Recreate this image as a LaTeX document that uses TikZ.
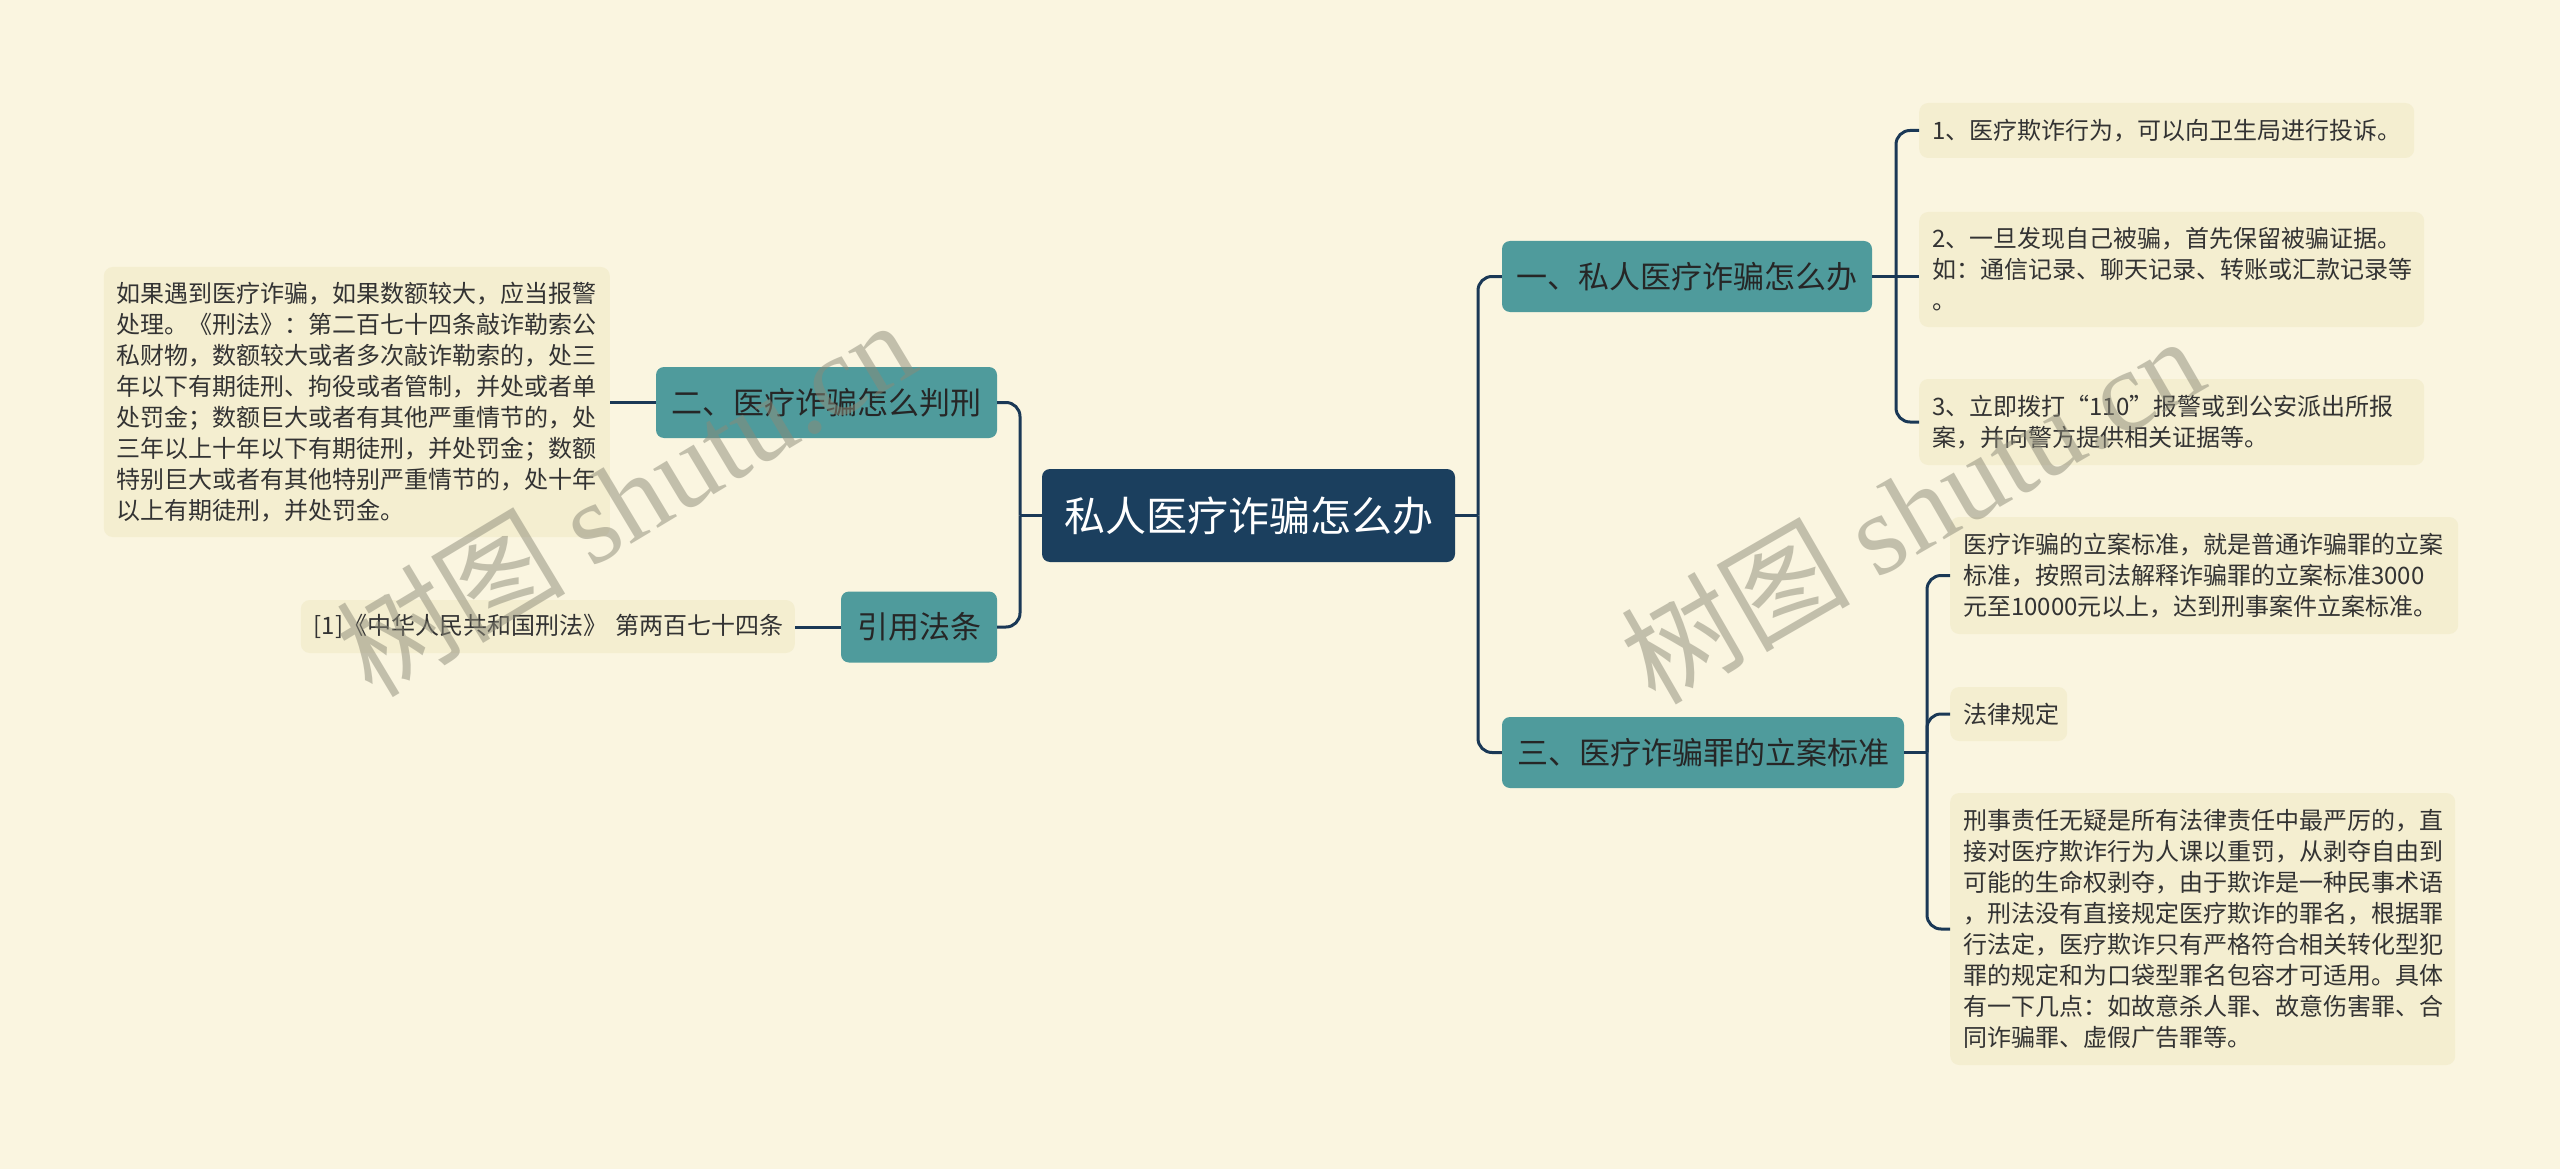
\documentclass[tikz,border=0pt]{standalone}
\usepackage{fontspec}
\setmainfont{Noto Sans CJK SC}
\newfontfamily\wmserif{Liberation Serif}
\definecolor{bgc}{HTML}{FAF5E0}
\definecolor{leafc}{HTML}{F4EED0}
\definecolor{tealc}{HTML}{4F9B9C}
\definecolor{navyc}{HTML}{1B3F5E}
\definecolor{linkc}{HTML}{1A3856}
\definecolor{wmc}{RGB}{140,138,120}
\begin{document}
\begin{tikzpicture}[x=1pt,y=-1pt,
  rootbox/.style={fill=navyc, rounded corners=8pt, text=white, font=\fontsize{41}{46}\selectfont, minimum width=413pt, minimum height=93pt, inner sep=0pt},
  topicbox/.style={fill=tealc, rounded corners=8pt, text=black!85, font=\fontsize{31}{36}\selectfont, minimum height=71pt, inner sep=0pt},
  leafbox/.style={fill=leafc, rounded corners=9pt, text=black!80, font=\fontsize{24}{31}\selectfont, align=left, inner xsep=13pt, inner ysep=0pt},
  conn/.style={draw=linkc, line width=3pt, rounded corners=14pt},
  wmark/.style={text=wmc, text opacity=0.5, inner sep=0pt, font=\fontsize{115}{120}\selectfont}]
\fill[bgc] (0,0) rectangle (2560,1169);
\useasboundingbox (0,0) rectangle (2560,1169);

% root and topics
\node[rootbox] (root) at (1248.5,515.5) {私人医疗诈骗怎么办};
\node[topicbox, minimum width=370pt] (t1) at (1687,276.5) {一、私人医疗诈骗怎么办};
\node[topicbox, minimum width=341pt] (t2) at (826.5,402.5) {二、医疗诈骗怎么判刑};
\node[topicbox, minimum width=156pt] (t4) at (919,627) {引用法条};
\node[topicbox, minimum width=402pt] (t3) at (1703,752.5) {三、医疗诈骗罪的立案标准};

% right leaves
\node[leafbox, anchor=west, text width=469pt, minimum height=55pt] (r1) at (1919,130.5) {1、医疗欺诈行为，可以向卫生局进行投诉。};
\node[leafbox, anchor=west, text width=479pt, minimum height=115pt] (r2) at (1919,269.5) {2、一旦发现自己被骗，首先保留被骗证据。\\如：通信记录、聊天记录、转账或汇款记录等\\。};
\node[leafbox, anchor=west, text width=479pt, minimum height=86pt] (r3) at (1919,422) {3、立即拨打“110”报警或到公安派出所报\\案，并向警方提供相关证据等。};
\node[leafbox, anchor=west, text width=482pt, minimum height=117pt] (r4) at (1950,575.5) {医疗诈骗的立案标准，就是普通诈骗罪的立案\\标准，按照司法解释诈骗罪的立案标准3000\\元至10000元以上，达到刑事案件立案标准。};
\node[leafbox, anchor=west, text width=91pt, minimum height=54pt] (r5) at (1950,714) {法律规定};
\node[leafbox, anchor=west, text width=479pt, minimum height=272pt] (r6) at (1950,929) {刑事责任无疑是所有法律责任中最严厉的，直\\接对医疗欺诈行为人课以重罚，从剥夺自由到\\可能的生命权剥夺，由于欺诈是一种民事术语\\，刑法没有直接规定医疗欺诈的罪名，根据罪\\行法定，医疗欺诈只有严格符合相关转化型犯\\罪的规定和为口袋型罪名包容才可适用。具体\\有一下几点：如故意杀人罪、故意伤害罪、合\\同诈骗罪、虚假广告罪等。};

% left leaves
\node[leafbox, anchor=east, text width=480pt, minimum height=270pt] (l1) at (610,402) {如果遇到医疗诈骗，如果数额较大，应当报警\\处理。《刑法》：第二百七十四条敲诈勒索公\\私财物，数额较大或者多次敲诈勒索的，处三\\年以下有期徒刑、拘役或者管制，并处或者单\\处罚金；数额巨大或者有其他严重情节的，处\\三年以上十年以下有期徒刑，并处罚金；数额\\特别巨大或者有其他特别严重情节的，处十年\\以上有期徒刑，并处罚金。};
\node[leafbox, anchor=east, text width=468pt, minimum height=53pt] (l2) at (795,626.5) {\mbox{[1]《中华人民共和国刑法》 第两百七十四条}};

% junctions
\coordinate (jr) at (1478,515.5);
\coordinate (jl) at (1020,515.5);
\coordinate (j1) at (1896,276.5);
\coordinate (j3) at (1927,752.5);

% connectors
\draw[conn] (root.east) -- (jr);
\draw[conn] (jr) |- (t1.west);
\draw[conn] (jr) |- (t3.west);
\draw[conn] (root.west) -- (jl);
\draw[conn] (jl) |- (t2.east);
\draw[conn] (jl) |- (t4.east);
\draw[conn] (t1.east) -- (j1);
\draw[conn] (j1) |- (r1.west);
\draw[conn] (t1.east) -- (t1.east -| r2.west);
\draw[conn] (j1) |- (r3.west);
\draw[conn] (t3.east) -- (j3);
\draw[conn] (j3) |- (r4.west);
\draw[conn] (j3) |- (r5.west);
\draw[conn] (j3) |- (r6.west);
\draw[conn] (t2.west) -- (t2.west -| l1.east);
\draw[conn] (t4.west) -- (t4.west -| l2.east);

% watermarks
\node[wmark, rotate=31, anchor=base west] (wm1) at (372,700) {树图 {\wmserif shutu.cn}};
\node[wmark, rotate=30, anchor=base west] (wm2) at (1655,707) {树图 {\wmserif shutu.cn}};
\end{tikzpicture}
\end{document}
